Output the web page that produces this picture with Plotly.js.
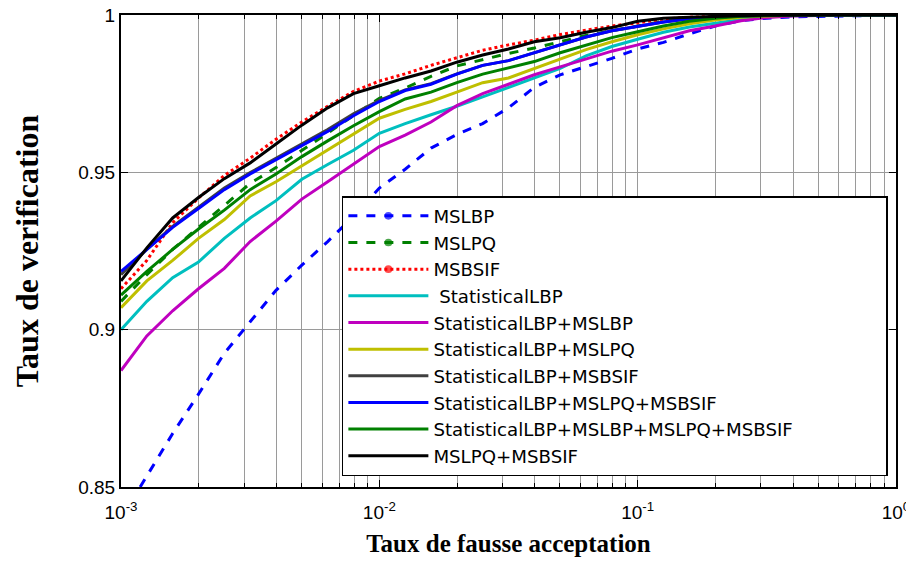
<!DOCTYPE html>
<html>
<head>
<meta charset="utf-8">
<script src="https://cdn.plot.ly/plotly-3.0.1.min.js"></script>
<style>html,body{margin:0;padding:0;background:#fff;}#chart{width:906px;height:562px;}</style>
</head>
<body>
<div id="chart"></div>
<script>
// False acceptance rate sample points (shared grid)
var far = [0.001, 0.001259, 0.001585, 0.001995, 0.002512, 0.003162, 0.003981, 0.005012, 0.00631, 0.007943,
           0.01, 0.01259, 0.01585, 0.01995, 0.02512, 0.03162, 0.03981, 0.05012, 0.0631, 0.07943,
           0.1, 0.1259, 0.1585, 0.1995, 0.2512, 0.3162, 0.3981, 0.631, 1];
var farMSLBP = [0.001186, 0.001259, 0.001585, 0.001995, 0.002512, 0.003162, 0.003981, 0.005012, 0.00631, 0.007943,
           0.01, 0.01259, 0.01585, 0.01995, 0.02512, 0.03162, 0.03981, 0.05012, 0.0631, 0.07943,
           0.1, 0.1259, 0.1585, 0.1995, 0.2512, 0.3162, 0.3981, 0.631, 1];

var mslbp = [0.850, 0.8535, 0.867, 0.8795, 0.8925, 0.9025, 0.9125, 0.9205, 0.928, 0.936,
             0.945, 0.951, 0.9577, 0.962, 0.9655, 0.9705, 0.977, 0.981, 0.9835, 0.9862,
             0.9892, 0.9913, 0.994, 0.9965, 0.9982, 0.999, 0.9994, 0.9997, 1];
var mslpq = [0.909, 0.9175, 0.9255, 0.9325, 0.9395, 0.9465, 0.9515, 0.957, 0.9625, 0.968,
             0.9735, 0.9768, 0.9805, 0.9838, 0.9858, 0.9878, 0.9895, 0.9915, 0.9935, 0.995,
             0.9965, 0.998, 0.9988, 0.9994, 0.9997, 0.9999, 1, 1, 1];
var msbsif = [0.913, 0.922, 0.934, 0.9418, 0.949, 0.9545, 0.9605, 0.966, 0.971, 0.9757,
              0.979, 0.9813, 0.984, 0.9865, 0.9888, 0.9905, 0.992, 0.9938, 0.9952, 0.9965,
              0.9975, 0.9987, 0.9993, 0.9996, 0.9998, 0.9999, 1, 1, 1];
var statLBP = [0.900, 0.909, 0.9165, 0.9215, 0.929, 0.9355, 0.941, 0.9478, 0.9525, 0.957,
               0.9624, 0.9655, 0.9683, 0.971, 0.974, 0.977, 0.980, 0.983, 0.987, 0.990,
               0.9923, 0.9945, 0.9962, 0.9975, 0.9986, 0.9994, 0.9998, 1, 1];
var statLBP_MSLBP = [0.887, 0.898, 0.906, 0.913, 0.9195, 0.928, 0.9345, 0.9415, 0.947, 0.9525,
                     0.9582, 0.9618, 0.966, 0.9712, 0.975, 0.978, 0.981, 0.9835, 0.986, 0.9885,
                     0.9905, 0.9928, 0.995, 0.9965, 0.9982, 0.9992, 0.9997, 1, 1];
var statLBP_MSLPQ = [0.907, 0.9155, 0.922, 0.929, 0.935, 0.9425, 0.947, 0.952, 0.957, 0.962,
                     0.9672, 0.970, 0.9725, 0.9755, 0.9785, 0.980, 0.983, 0.986, 0.989, 0.9915,
                     0.9937, 0.9956, 0.9972, 0.9984, 0.9993, 0.9997, 0.9999, 1, 1];
var statLBP_MSBSIF = [0.9175, 0.9255, 0.9328, 0.939, 0.945, 0.9499, 0.9545, 0.959, 0.9636, 0.9686,
                      0.9729, 0.9762, 0.9782, 0.9813, 0.984, 0.9855, 0.988, 0.9903, 0.993, 0.995,
                      0.9963, 0.9978, 0.9988, 0.9994, 0.9997, 0.9999, 1, 1, 1];
var statLBP_MSLPQ_MSBSIF = [0.9185, 0.9255, 0.9325, 0.9385, 0.9445, 0.9495, 0.954, 0.9585, 0.963, 0.968,
                            0.9725, 0.976, 0.978, 0.9812, 0.984, 0.9855, 0.988, 0.9903, 0.993, 0.995,
                            0.9963, 0.9978, 0.9988, 0.9994, 0.9997, 0.9999, 1, 1, 1];
var statLBP_all = [0.911, 0.9185, 0.9255, 0.932, 0.938, 0.9445, 0.9495, 0.955, 0.960, 0.9648,
                   0.9693, 0.9733, 0.9755, 0.9785, 0.9812, 0.9832, 0.9852, 0.988, 0.9905, 0.9928,
                   0.9947, 0.9965, 0.998, 0.999, 0.9996, 0.9999, 1, 1, 1];
var mslpq_msbsif = [0.9155, 0.926, 0.9355, 0.942, 0.948, 0.953, 0.959, 0.965, 0.9705, 0.975,
                    0.9775, 0.980, 0.9822, 0.985, 0.9873, 0.9892, 0.9915, 0.9928, 0.9945, 0.996,
                    0.998, 0.999, 0.9993, 0.9996, 0.9998, 0.9999, 1, 1, 1];

var names = ['MSLBP', 'MSLPQ', 'MSBSIF', ' StatisticalLBP', 'StatisticalLBP+MSLBP', 'StatisticalLBP+MSLPQ',
             'StatisticalLBP+MSBSIF', 'StatisticalLBP+MSLPQ+MSBSIF', 'StatisticalLBP+MSLBP+MSLPQ+MSBSIF', 'MSLPQ+MSBSIF'];
var tickVals = [0.001, 0.01, 0.1, 1];
var tickText = ['10<sup>-3</sup>', '10<sup>-2</sup>', '10<sup>-1</sup>', '10<sup>0</sup>'];

var xs = [farMSLBP, far, far, far, far, far, far, far, far, far];
var ys = [mslbp, mslpq, msbsif, statLBP, statLBP_MSLBP, statLBP_MSLPQ, statLBP_MSBSIF,
          statLBP_MSLPQ_MSBSIF, statLBP_all, mslpq_msbsif];
var colors = ['#0000ff', '#008000', '#ff0000', '#00bfbf', '#bf00bf', '#bfbf00', '#404040', '#0000ff', '#008000', '#000000'];
var dashes = ['dash', 'dash', 'dot', 'solid', 'solid', 'solid', 'solid', 'solid', 'solid', 'solid'];
var withDot = [true, true, true, false, false, false, false, false, false, false];

var traces = [];
for (var i = 0; i < names.length; i++) {
  var t = {
    x: xs[i], y: ys[i], name: names[i], type: 'scatter',
    mode: withDot[i] ? 'lines+markers' : 'lines',
    line: {color: colors[i], width: 3, dash: dashes[i]}
  };
  if (withDot[i]) {
    // invisible on the plot, but gives a dot in the legend sample
    var n = xs[i].length;
    var sz = [], cl = [];
    for (var k = 0; k < n; k++) { sz.push(k === 0 ? 0 : 8); cl.push(k === 0 ? colors[i] : 'rgba(0,0,0,0)'); }
    t.marker = {size: sz, color: cl, line: {width: 0}};
  }
  traces.push(t);
}

var tickFont = {size: 19, family: 'Liberation Sans, Arial, sans-serif', color: '#000'};

var layout = {
  width: 906, height: 562,
  margin: {l: 121, r: 10, t: 15, b: 75},
  paper_bgcolor: '#ffffff', plot_bgcolor: '#ffffff',
  showlegend: true,
  font: {family: 'Liberation Sans, Arial, sans-serif', color: '#000'},
  xaxis: {
    type: 'log', range: [-3, 0],
    tickmode: 'array', tickvals: tickVals, ticktext: tickText,
    ticks: 'inside', ticklen: 7, tickcolor: '#000', tickwidth: 1,
    showline: true, linecolor: '#000', linewidth: 2, mirror: 'ticks',
    showgrid: true, gridcolor: '#9a9a9a', gridwidth: 1,
    minor: {dtick: 'D1', ticks: 'inside', ticklen: 4, tickcolor: '#000', showgrid: true, gridcolor: '#9a9a9a', gridwidth: 1},
    tickfont: tickFont, ticklabelstandoff: 7, ticklabeloverflow: 'allow',
    zeroline: false, automargin: false,
    title: {text: 'Taux de fausse acceptation', font: {family: 'Liberation Serif, Times New Roman, serif', size: 25, weight: 'bold', color: '#000'}, standoff: 13}
  },
  yaxis: {
    range: [0.85, 1], dtick: 0.05, tick0: 0.85,
    ticks: 'inside', ticklen: 7, tickcolor: '#000', tickwidth: 1,
    showline: true, linecolor: '#000', linewidth: 2, mirror: 'ticks',
    showgrid: true, gridcolor: '#9a9a9a', gridwidth: 1,
    tickfont: tickFont,
    zeroline: false, automargin: false,
    title: {text: 'Taux de verification', font: {family: 'Liberation Serif, Times New Roman, serif', size: 32, weight: 'bold', color: '#000'}, standoff: 30}
  },
  legend: {
    orientation: 'h', entrywidth: 448, entrywidthmode: 'pixels',
    x: 0.285, y: 0.6165, xanchor: 'left', yanchor: 'top',
    bgcolor: '#ffffff', bordercolor: '#000', borderwidth: 1.5,
    font: {size: 18.2, family: 'DejaVu Sans, Liberation Sans, sans-serif', color: '#000'},
    itemwidth: 80, tracegroupgap: 0
  }
};

Plotly.newPlot('chart', traces, layout, {displayModeBar: false, staticPlot: true});
</script>
</body>
</html>
